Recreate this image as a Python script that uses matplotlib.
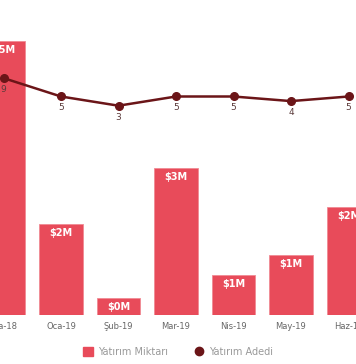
import numpy as np
import matplotlib.pyplot as plt
from matplotlib.lines import Line2D
from matplotlib.patches import Patch

months = ['Ara-18', 'Oca-19', 'Şub-19', 'Mar-19', 'Nis-19', 'May-19', 'Haz-19']
amount = [5.0, 1.66, 0.31, 2.68, 0.73, 1.09, 1.97]   # $M
count = [9, 5, 3, 5, 5, 4, 5]

bar_col = '#e84b5a'
line_col = '#6b1518'

fig = plt.figure(figsize=(3.56, 3.64), dpi=100)
ax = fig.add_axes([0, 49/364, 1, 300/364])
x = np.arange(len(months))

ax.bar(x, amount, width=0.765, color=bar_col, edgecolor='#f08a94', linewidth=0.6, zorder=2)
for xi, v in zip(x, amount):
    ax.annotate('$%dM' % int(v + 0.5), (xi, v), xytext=(0, -3), textcoords='offset points',
                ha='center', va='top', color='white', fontsize=7, fontweight='bold', zorder=3)

ax.set_xlim(-3.5/57.5, (356-3.5)/57.5)
ax.set_ylim(0, 300/54.8)
ax.set_xticks(x)
ax.set_xticklabels(months, fontsize=6, color='#666666')
ax.tick_params(axis='x', length=0, pad=5)
ax.set_yticks([])
for s in ax.spines.values():
    s.set_visible(False)

ax2 = ax.twinx()
ax2.plot(x, count, color=line_col, lw=1.8, marker='o', ms=5.5, zorder=4)
for xi, v in zip(x, count):
    ax2.annotate(str(v), (xi, v), xytext=(0, -5), textcoords='offset points',
                 ha='center', va='top', color='#5a3a3a', fontsize=6.5)
ax2.set_ylim((119.5-315)/4.6, (119.5-15)/4.6)
ax2.set_yticks([])
for s in ax2.spines.values():
    s.set_visible(False)

handles = [Patch(facecolor=bar_col, edgecolor=bar_col),
           Line2D([], [], color=line_col, marker='o', ms=6, lw=0)]
fig.legend(handles, ['Yatırım Miktarı', 'Yatırım Adedi'], loc='center',
           bbox_to_anchor=(0.5, 12/364), ncol=2, frameon=False, fontsize=7,
           labelcolor='#999999', handlelength=1.0, handleheight=1.0, columnspacing=2.6,
           handletextpad=0.6)

fig.savefig('out.png', dpi=100)
